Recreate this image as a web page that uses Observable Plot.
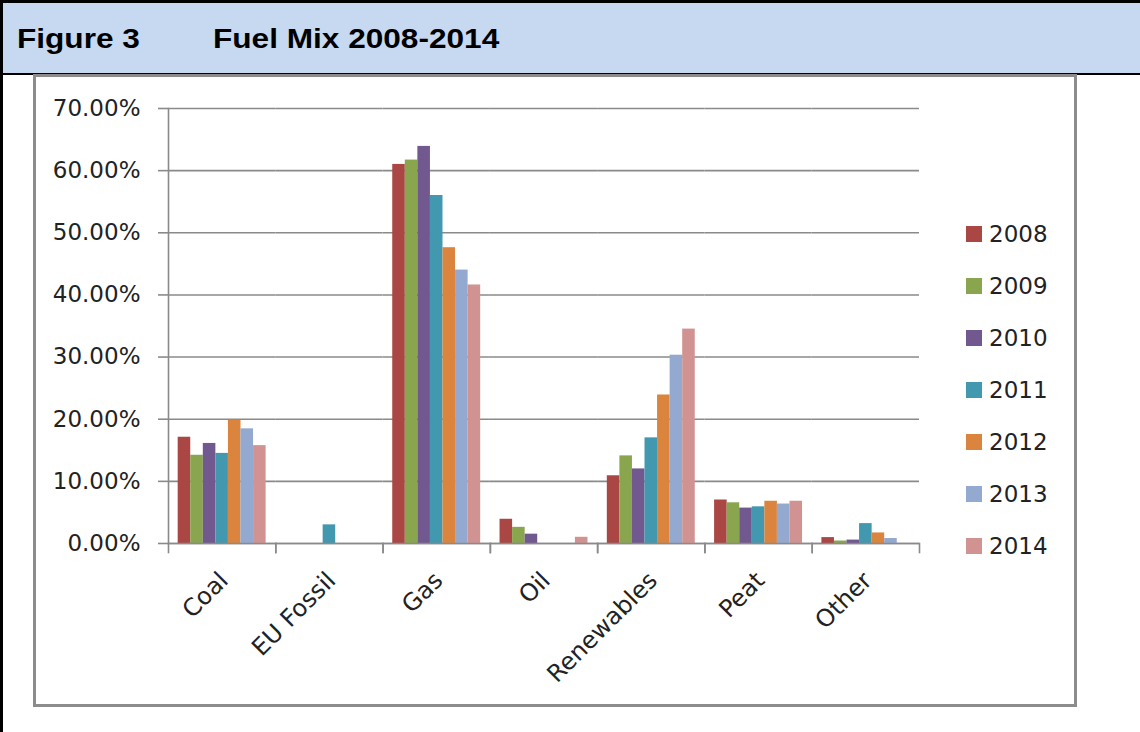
<!DOCTYPE html>
<html>
<head>
<meta charset="utf-8">
<script src="https://cdn.jsdelivr.net/npm/d3@7"></script>
<script src="https://cdn.jsdelivr.net/npm/@observablehq/plot@0.6"></script>
<style>
  html, body { margin: 0; padding: 0; background: #fff; }
  #page { position: relative; width: 1140px; height: 732px; overflow: hidden; background: #fff; }
  #hdr { position: absolute; left: 0; top: 0; width: 1140px; height: 75px; box-sizing: border-box;
         background: #C6D9F1; border-top: 3px solid #000; border-bottom: 2px solid #000; }
  #lborder { position: absolute; left: 0; top: 0; width: 3px; height: 732px; background: #000; }
  .ht { position: absolute; top: 26px; font: bold 27px "Liberation Sans", Arial, sans-serif; line-height: 27px;
        color: #000; transform: scaleX(1.17); transform-origin: 0 0; white-space: nowrap; }
  #box { position: absolute; left: 33px; top: 74px; width: 1044px; height: 633px; box-sizing: border-box;
         border: 3px solid #8c8c8c; background: #fff; }
  #chart { position: absolute; left: 0; top: 0; }
  #legend { position: absolute; left: 966px; top: 0; font-family: "DejaVu Sans", sans-serif; font-size: 23px; color: #222; }
  .li { position: absolute; left: 0; height: 52px; display: flex; align-items: center; white-space: nowrap; }
  .sw { width: 16px; height: 16px; margin-right: 7px; }
</style>
</head>
<body>
<div id="page">
  <div id="hdr"></div>
  <div id="lborder"></div>
  <div class="ht" id="fig" style="left:17px"></div>
  <div class="ht" id="ttl" style="left:213px"></div>
  <div id="box"></div>
  <div id="chart"></div>
  <div id="legend"></div>
</div>
<script>
// ---- data ----
const figureLabel = "Figure 3";
const titleText = "Fuel Mix 2008-2014";
const categories = ["Coal", "EU Fossil", "Gas", "Oil", "Renewables", "Peat", "Other"];
const years = ["2008", "2009", "2010", "2011", "2012", "2013", "2014"];
const colors = ["#AA4643", "#89A54E", "#71588F", "#4198AF", "#DB843D", "#93A9CF", "#D19392"];
const v2008 = [17.1, 0, 61.0, 3.9, 10.9, 7.0, 0.95];
const v2009 = [14.2, 0, 61.7, 2.6, 14.1, 6.55, 0.4];
const v2010 = [16.1, 0, 63.9, 1.5, 12.0, 5.7, 0.55];
const v2011 = [14.5, 3.0, 56.0, 0, 17.0, 5.9, 3.2];
const v2012 = [19.8, 0, 47.6, 0, 23.9, 6.8, 1.7];
const v2013 = [18.45, 0, 44.0, 0, 30.3, 6.35, 0.8];
const v2014 = [15.75, 0, 41.6, 1.0, 34.5, 6.8, 0];
const series = [v2008, v2009, v2010, v2011, v2012, v2013, v2014];
const yTicks = [0, 10, 20, 30, 40, 50, 60, 70];

const data = years.flatMap((yr, i) => categories.map((c, j) => ({category: c, year: yr, value: series[i][j]})));

document.getElementById("fig").textContent = figureLabel;
document.getElementById("ttl").textContent = titleText;

const W = 1140, H = 732;
const mL = 168, mR = 221, mT = 108, mB = 189;
const plotH = H - mT - mB;
const gridColor = "#8a8a8a";
const textColor = "#222";

const chart = Plot.plot({
  width: W, height: H,
  marginLeft: mL, marginRight: mR, marginTop: mT, marginBottom: mB,
  style: {background: "transparent", fontFamily: "DejaVu Sans, sans-serif", overflow: "visible"},
  fx: {domain: categories, padding: 0, round: false, axis: null, label: null},
  x: {domain: years, paddingInner: 0, paddingOuter: 0.77, round: false, axis: null, label: null},
  y: {domain: [0, 70], axis: null, label: null},
  color: {domain: years, range: colors},
  marks: [
    Plot.gridY(yTicks, {stroke: gridColor, strokeOpacity: 1, strokeWidth: 1.6}),
    Plot.barY(data, {fx: "category", x: "year", y: "value", fill: "year"}),
    Plot.ruleY([0], {stroke: gridColor, strokeWidth: 1.6}),
    Plot.frame({anchor: "left", stroke: gridColor, strokeWidth: 1.6, insetTop: plotH, insetBottom: -9}),
    Plot.frame({anchor: "right", stroke: gridColor, strokeWidth: 1.6, insetTop: plotH, insetBottom: -9}),
    Plot.frame({anchor: "left", stroke: gridColor, strokeWidth: 1.6, fx: () => categories[0]}),
    Plot.axisY(yTicks, {label: null, tickSize: 10, tickPadding: 18, tickFormat: d => d.toFixed(2) + "%",
      fontSize: 23, stroke: gridColor, strokeWidth: 1.6, fill: textColor}),
    Plot.axisFx({anchor: "bottom", label: null, tickSize: 0, tickPadding: 33, tickRotate: -45,
      textAnchor: "end", lineAnchor: "middle", fontSize: 24, fill: textColor, dx: 2})
  ]
});
document.getElementById("chart").appendChild(chart);

// legend
const legend = document.getElementById("legend");
years.forEach((yr, i) => {
  const row = document.createElement("div");
  row.className = "li";
  row.style.top = (208 + 52 * i) + "px";
  const sw = document.createElement("div");
  sw.className = "sw";
  sw.style.background = colors[i];
  const t = document.createElement("span");
  t.textContent = yr;
  row.appendChild(sw); row.appendChild(t);
  legend.appendChild(row);
});
</script>
</body>
</html>
